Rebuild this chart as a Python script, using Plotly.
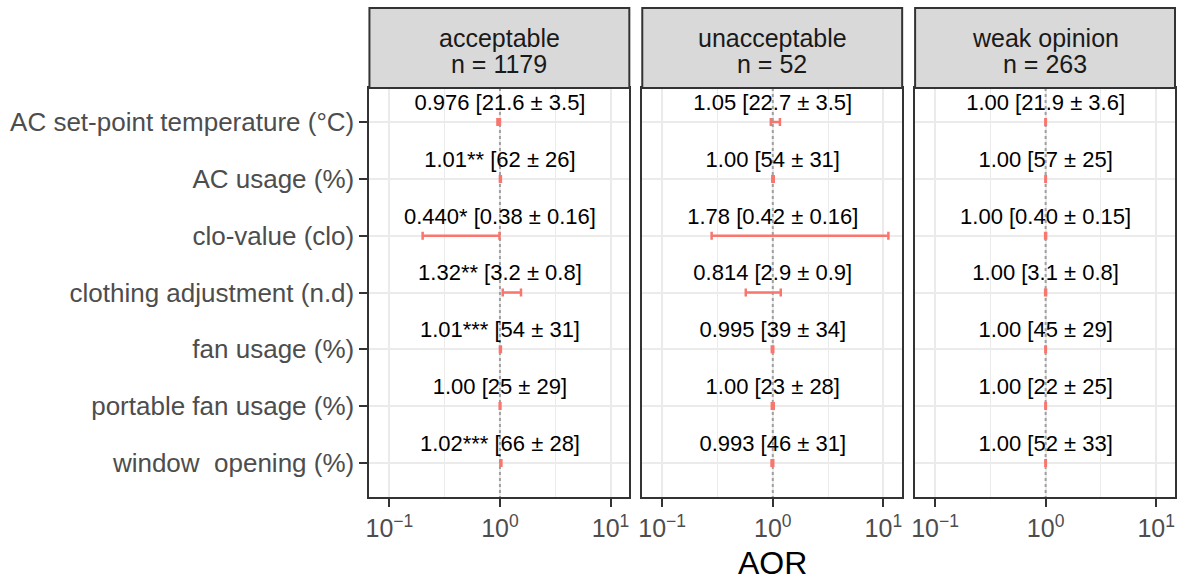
import plotly.graph_objects as go

W, H = 1177, 582

categories = ["AC set-point temperature (°C)", "AC usage (%)", "clo-value (clo)",
              "clothing adjustment (n.d)", "fan usage (%)", "portable fan usage (%)",
              "window\u00a0 opening (%)"]
groups = ["acceptable", "unacceptable", "weak opinion"]
group_n = [1179, 52, 263]

aor_acceptable = [0.976, 1.01, 0.440, 1.32, 1.01, 1.00, 1.02]
lo_acceptable = [0.95, 1.00, 0.20, 1.06, 1.00, 0.995, 1.01]
hi_acceptable = [1.00, 1.02, 0.99, 1.55, 1.02, 1.01, 1.03]
lab_acceptable = ["0.976 [21.6 ± 3.5]", "1.01** [62 ± 26]", "0.440* [0.38 ± 0.16]",
                  "1.32** [3.2 ± 0.8]", "1.01*** [54 ± 31]", "1.00 [25 ± 29]",
                  "1.02*** [66 ± 28]"]

aor_unacceptable = [1.05, 1.00, 1.78, 0.814, 0.995, 1.00, 0.993]
lo_unacceptable = [0.96, 0.99, 0.28, 0.57, 0.98, 0.98, 0.975]
hi_unacceptable = [1.16, 1.02, 11.1, 1.18, 1.01, 1.02, 1.01]
lab_unacceptable = ["1.05 [22.7 ± 3.5]", "1.00 [54 ± 31]", "1.78 [0.42 ± 0.16]",
                    "0.814 [2.9 ± 0.9]", "0.995 [39 ± 34]", "1.00 [23 ± 28]",
                    "0.993 [46 ± 31]"]

aor_weak = [1.00, 1.00, 1.00, 1.00, 1.00, 1.00, 1.00]
lo_weak = [0.995, 0.995, 0.99, 0.99, 0.995, 0.995, 0.995]
hi_weak = [1.005, 1.005, 1.01, 1.01, 1.005, 1.005, 1.005]
lab_weak = ["1.00 [21.9 ± 3.6]", "1.00 [57 ± 25]", "1.00 [0.40 ± 0.15]",
            "1.00 [3.1 ± 0.8]", "1.00 [45 ± 29]", "1.00 [22 ± 25]",
            "1.00 [52 ± 33]"]

x_tickvals = [0.1, 1, 10]
x_ticktext = ["10<sup>\u22121</sup>", "10<sup>0</sup>", "10<sup>1</sup>"]

series = [
    (aor_acceptable, lo_acceptable, hi_acceptable, lab_acceptable),
    (aor_unacceptable, lo_unacceptable, hi_unacceptable, lab_unacceptable),
    (aor_weak, lo_weak, hi_weak, lab_weak),
]

FONT = "Liberation Sans, Arial, sans-serif"
RED = "#F8766D"
panels_px = [(367, 628), (641, 902), (915, 1176)]
top_px, bot_px = 88, 497
strip_top_px = 8
ydom = [(H - bot_px) / H, (H - top_px) / H]

ypos = list(range(1, len(categories) + 1))

fig = go.Figure()
layout = dict(
    width=W, height=H,
    margin=dict(l=0, r=0, t=0, b=0),
    paper_bgcolor="white", plot_bgcolor="white",
    showlegend=False,
    font=dict(family=FONT),
)
shapes = []
annotations = []

for i, (aor, lo, hi, lab) in enumerate(series):
    k = "" if i == 0 else str(i + 1)
    xa, ya = "x" + k, "y" + k
    x0p, x1p = panels_px[i]
    # reference dotted line at AOR = 1
    fig.add_trace(go.Scatter(
        x=[1, 1], y=[0.4, len(categories) + 0.6], mode="lines",
        line=dict(color="#A0A0A0", width=2, dash="dot"),
        xaxis=xa, yaxis=ya, hoverinfo="skip"))
    # error bars
    fig.add_trace(go.Scatter(
        x=aor, y=ypos, mode="markers",
        marker=dict(size=1, color=RED, opacity=0),
        error_x=dict(type="data", symmetric=False,
                     array=[h - a for h, a in zip(hi, aor)],
                     arrayminus=[a - l for a, l in zip(aor, lo)],
                     color=RED, thickness=2.5, width=4),
        xaxis=xa, yaxis=ya))
    # labels
    fig.add_trace(go.Scatter(
        x=[1] * len(lab), y=[p - 0.31 for p in ypos], mode="text", text=lab,
        textposition="middle center",
        textfont=dict(family=FONT, size=22, color="black"),
        xaxis=xa, yaxis=ya, hoverinfo="skip"))

    layout["xaxis" + k] = dict(
        type="log", range=[-1.18, 1.17], domain=[x0p / W, x1p / W],
        anchor=ya, tickvals=x_tickvals, ticktext=x_ticktext,
        ticks="outside", ticklen=8, tickwidth=2, tickcolor="#333333",
        tickfont=dict(family=FONT, size=25, color="#4D4D4D"),
        showgrid=True, gridcolor="#EBEBEB", gridwidth=2,
        minor=dict(tickvals=[10 ** -0.5, 10 ** 0.5], showgrid=True,
                   gridcolor="#EBEBEB", gridwidth=1, ticks=""),
        showline=True, linecolor="#333333", linewidth=2, mirror=True,
        zeroline=False, fixedrange=True)
    layout["yaxis" + k] = dict(
        domain=ydom, anchor=xa, range=[len(categories) + 0.6, 0.4],
        tickvals=ypos, ticktext=categories if i == 0 else None,
        showticklabels=(i == 0),
        ticks="outside" if i == 0 else "", ticklen=8, tickwidth=2, tickcolor="#333333",
        tickfont=dict(family=FONT, size=26, color="#4D4D4D"),
        showgrid=True, gridcolor="#EBEBEB", gridwidth=2,
        showline=True, linecolor="#333333", linewidth=2, mirror=True,
        zeroline=False, fixedrange=True)

    # strip
    shapes.append(dict(type="rect", xref="paper", yref="paper",
                       x0=x0p / W, x1=x1p / W,
                       y0=(H - top_px) / H, y1=(H - strip_top_px) / H,
                       fillcolor="#D9D9D9", line=dict(color="#333333", width=2),
                       layer="above"))
    xc = (x0p + x1p) / 2 / W
    annotations.append(dict(
        xref="paper", yref="paper", x=xc, y=(H - 38) / H,
        text=groups[i], showarrow=False, xanchor="center", yanchor="middle",
        font=dict(family=FONT, size=25, color="#1A1A1A")))
    annotations.append(dict(
        xref="paper", yref="paper", x=xc, y=(H - 64) / H,
        text=f"n = {group_n[i]}", showarrow=False, xanchor="center", yanchor="middle",
        font=dict(family=FONT, size=25, color="#1A1A1A")))

annotations.append(dict(
    xref="paper", yref="paper", x=(panels_px[1][0] + panels_px[1][1]) / 2 / W,
    y=(H - 563) / H, text="AOR", showarrow=False,
    xanchor="center", yanchor="middle", borderpad=0,
    font=dict(family=FONT, size=32, color="black")))

layout["shapes"] = shapes
layout["annotations"] = annotations
fig.update_layout(**layout)
fig.write_html("out.html")
